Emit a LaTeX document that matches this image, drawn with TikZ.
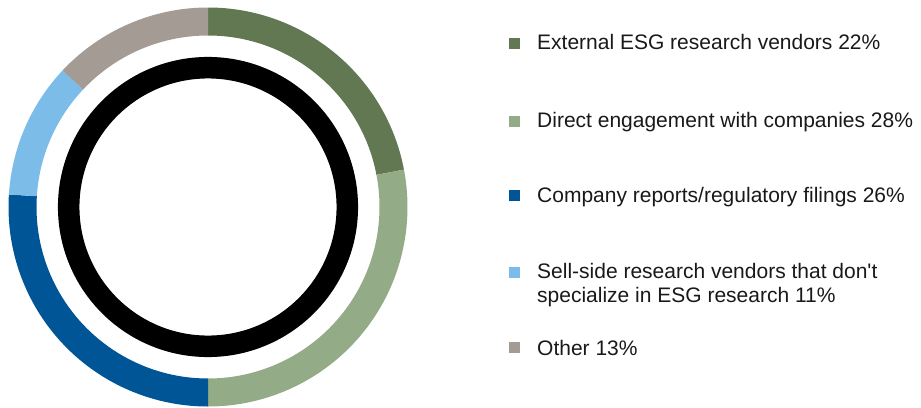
\documentclass[tikz,border=0pt]{standalone}
\usepackage{fontspec}
\newfontfamily\legfont{Liberation Sans}
\definecolor{cExt}{HTML}{617853}
\definecolor{cDir}{HTML}{93AB86}
\definecolor{cComp}{HTML}{005596}
\definecolor{cSell}{HTML}{7BBDE8}
\definecolor{cOther}{HTML}{A39B94}
\tikzset{
  legsq/.style={minimum size=10.7pt, inner sep=0pt, draw=none},
  legtxt/.style={anchor=base west, inner sep=0pt, font=\legfont\fontsize{21pt}{24pt}\selectfont, align=left, text=black!90},
}
\newcommand{\seg}[3]{%
  \fill[#1] ([shift={(#2:199.5pt)}]O) arc[start angle=#2, end angle=#3, radius=199.5pt]
    -- ([shift={(#3:171.5pt)}]O) arc[start angle=#3, end angle=#2, radius=171.5pt] -- cycle;}
\begin{document}
\begin{tikzpicture}[x=1pt,y=1pt]
\useasboundingbox (0,0) rectangle (921,-407);
\coordinate (O) at (208,-207);
\seg{cExt}{10.8}{90}
\seg{cDir}{-90}{10.8}
\seg{cComp}{176.4}{270}
\seg{cSell}{136.8}{176.4}
\seg{cOther}{90}{136.8}
\draw[line width=21.5pt, black] (O) circle[radius=139.3pt];
% legend
\node[legsq, fill=cExt] (s1) at (514.7,-43.3) {};
\node[legtxt] (t1) at (537,-49) {External ESG research vendors 22\%};
\node[legsq, fill=cDir] (s2) at (514.7,-121.7) {};
\node[legtxt] (t2) at (537,-127.3) {Direct engagement with companies 28\%};
\node[legsq, fill=cComp] (s3) at (514.7,-195.7) {};
\node[legtxt] (t3) at (537,-202.7) {Company reports/regulatory filings 26\%};
\node[legsq, fill=cSell] (s4) at (514.7,-272.7) {};
\node[legtxt] (t4) at (537,-302.5) {Sell-side research vendors that don't\\specialize in ESG research 11\%};
\node[legsq, fill=cOther] (s5) at (514.7,-347.7) {};
\node[legtxt] (t5) at (537,-355.5) {Other 13\%};
\end{tikzpicture}
\end{document}
